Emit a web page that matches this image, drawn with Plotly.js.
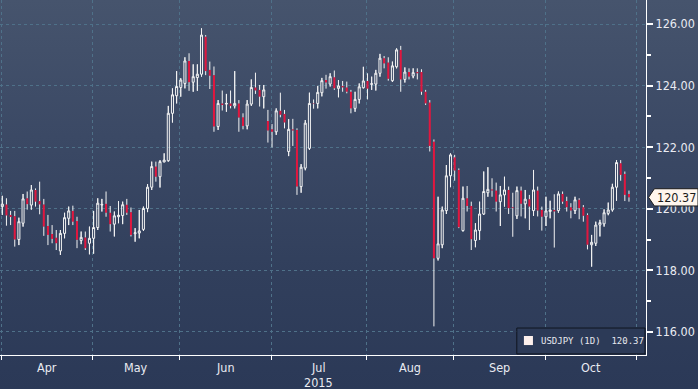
<!DOCTYPE html>
<html><head><meta charset="utf-8">
<script src="https://cdn.plot.ly/plotly-3.0.1.min.js"></script>
<style>
html,body{margin:0;padding:0;background:#2c3a57;overflow:hidden;}
#chart{width:698px;height:389px;background:linear-gradient(to bottom,#46546d 0%,#3b4965 35%,#313f5c 70%,#2b3957 100%);}
</style></head><body><div id="chart"></div>
<script>
// USDJPY daily candles, Apr - Oct 2015
const openP = [120.07,120.14,119.80,119.76,119.00,119.53,120.34,120.12,120.61,120.25,
120.14,119.44,119.18,119.06,118.63,119.20,119.69,119.93,119.60,118.97,
119.07,118.88,119.04,119.39,120.12,120.16,119.87,119.50,119.74,119.78,
120.13,119.89,119.19,119.21,119.33,120.01,120.70,121.37,121.04,121.52,
121.56,123.10,123.67,123.94,124.07,124.80,124.11,124.26,124.37,125.59,
124.51,124.34,122.67,123.42,123.40,123.42,123.34,123.42,122.97,122.69,
123.40,123.94,123.86,123.64,122.85,122.58,122.50,123.18,123.08,121.86,
122.58,122.56,120.72,121.32,121.96,123.42,123.42,123.77,124.18,124.05,
124.27,123.91,123.99,123.94,123.80,123.26,123.55,123.93,124.15,124.04,
124.05,124.40,124.89,124.75,124.16,124.61,125.16,124.20,124.44,124.31,
124.44,124.44,123.80,123.45,122.18,118.39,118.83,119.94,121.07,121.67,
121.26,119.29,120.34,120.09,118.97,119.29,119.83,120.52,120.63,120.59,
120.23,120.45,120.61,120.05,119.77,120.59,120.16,120.31,119.94,120.59,
119.96,119.74,119.91,119.96,119.94,120.48,120.25,120.05,119.94,120.29,
120.05,119.80,118.83,118.88,119.47,119.51,119.85,119.96,120.70,121.48,
121.13,120.48];
const highP = [120.42,120.34,119.93,119.93,119.71,120.48,120.56,120.77,120.66,120.88,
120.32,119.80,119.47,119.31,119.31,119.87,120.07,120.10,119.74,119.26,
119.26,119.42,119.93,120.34,120.32,120.56,120.09,119.91,120.25,120.23,
120.32,120.04,119.37,119.96,120.07,120.80,121.53,121.53,121.58,121.80,
123.34,123.91,124.47,124.24,124.92,125.05,124.69,124.69,125.86,125.64,
124.78,124.62,123.53,123.84,123.73,123.84,124.47,123.53,123.10,123.53,
124.20,124.42,124.02,124.02,123.21,122.75,123.26,123.77,123.21,122.91,
122.92,122.61,121.45,122.88,123.77,123.55,123.99,124.25,124.35,124.40,
124.49,124.18,124.15,124.13,123.86,123.80,124.07,124.61,124.40,124.29,
124.51,125.03,124.96,124.92,124.78,125.21,125.29,124.59,124.56,124.56,
124.56,124.53,123.86,123.53,122.25,120.39,120.07,121.42,121.80,121.75,
121.31,120.72,120.74,120.23,119.53,120.23,121.21,121.35,120.99,120.85,
120.74,121.04,120.72,120.52,120.72,120.72,120.61,120.45,121.26,120.72,
120.07,120.39,120.26,120.47,120.56,120.56,120.39,120.18,120.39,120.34,
120.12,119.85,119.15,119.58,119.64,119.98,120.20,120.81,121.58,121.58,
121.21,120.59];
const lowP = [119.80,119.45,119.47,118.77,118.82,119.42,119.97,119.97,120.07,119.82,
119.12,118.82,118.88,118.66,118.50,119.04,119.47,119.47,118.72,118.85,
118.66,118.52,118.54,119.31,119.91,119.74,119.26,119.10,119.53,119.50,
119.80,119.10,118.93,119.04,119.28,119.89,120.61,120.88,120.69,121.51,
121.53,122.80,123.42,123.64,123.91,123.83,123.80,123.83,124.29,124.34,
123.89,122.50,122.56,123.19,123.15,123.26,123.26,122.50,122.58,122.58,
123.34,123.73,123.32,123.26,122.15,121.99,122.40,122.97,122.61,121.71,
122.04,120.45,120.52,121.25,121.91,123.25,123.26,123.65,123.90,123.97,
123.86,123.62,123.80,123.75,123.10,123.15,123.42,123.91,123.55,123.86,
123.84,124.29,124.56,124.16,124.12,124.56,123.80,124.10,124.20,124.24,
124.20,123.70,123.37,121.86,116.18,118.32,118.72,119.83,120.70,120.91,
119.37,119.26,119.91,118.66,118.75,118.99,119.80,120.39,120.39,119.91,
119.44,120.07,119.83,119.09,119.67,119.75,119.69,119.31,119.77,119.75,
119.29,119.44,119.69,118.74,119.87,120.16,119.91,119.69,119.83,119.66,
119.58,118.68,118.12,118.79,119.10,119.42,119.79,119.91,120.26,120.91,
120.25,120.23];
const closeP = [120.15,119.78,119.73,119.00,119.58,120.32,120.15,120.61,120.23,120.14,
119.42,119.15,119.02,118.88,119.20,119.71,119.93,119.58,118.99,119.07,
118.72,119.04,119.39,120.18,120.14,119.87,119.50,119.77,119.79,120.13,
119.87,119.15,119.22,119.28,120.01,120.70,121.37,121.04,121.53,121.58,
123.10,123.70,123.97,124.18,124.80,124.11,124.29,124.37,125.64,124.47,
124.32,122.67,123.42,123.37,123.42,123.34,123.42,122.96,122.69,123.40,
123.94,123.84,123.64,123.86,122.54,122.50,123.18,123.05,122.80,122.58,
122.54,120.72,121.35,122.78,123.42,123.40,123.78,124.16,124.10,124.29,
123.91,123.99,123.94,123.80,123.26,123.55,123.96,124.15,123.90,124.06,
124.40,124.89,124.72,124.22,124.64,125.16,124.20,124.44,124.29,124.42,
124.40,123.80,123.42,122.04,118.39,118.86,119.96,121.07,121.75,121.24,
119.40,120.34,120.09,119.01,119.31,119.83,120.56,120.63,120.59,120.23,
120.45,120.61,120.02,120.02,120.59,120.16,120.31,120.07,120.61,119.94,
119.74,119.93,119.96,119.91,120.48,120.23,120.05,119.94,120.29,120.02,
119.77,118.83,118.91,119.47,119.55,119.87,119.96,120.70,121.50,121.10,
120.45,120.37];
const monthNames = ['Apr','May','Jun','Jul','Aug','Sep','Oct'];
const monthStartIdx = [0,22,43,65,88,109,131,153];
const yearLabel = '2015';
const yTicks = [116,118,120,122,124,126];
const seriesName = 'USDJPY (1D)';

const idx = openP.map((_, i) => i);
const lastClose = closeP[closeP.length - 1];

// upper/lower wick segments (white)
const wx = [], wy = [];
for (let i = 0; i < idx.length; i++) {
  const top = Math.max(openP[i], closeP[i]), bot = Math.min(openP[i], closeP[i]);
  wx.push(i, i, null, i, i, null);
  wy.push(top, highP[i], null, lowP[i], bot, null);
}

const RED = '#e0173f', WHITE = '#f3f3f3';
const FONT = "'DejaVu Sans Condensed','Liberation Sans Narrow',sans-serif";

const traces = [
  {type:'candlestick', x:idx, open:openP, high:highP, low:lowP, close:closeP,
   increasing:{line:{color:WHITE, width:1}, fillcolor:'rgba(0,0,0,0)'},
   decreasing:{line:{color:RED, width:0}, fillcolor:RED},
   whiskerwidth:0, hoverinfo:'skip', showlegend:false, name:seriesName},
  {type:'scatter', mode:'lines', x:wx, y:wy, line:{color:WHITE, width:1},
   hoverinfo:'skip', showlegend:false}
];

const tickPos = monthStartIdx.map(v => v - 0.2);
const labelPos = monthNames.map((_, k) => (tickPos[k] + tickPos[k+1]) / 2);

const annotations = monthNames.map((m, k) => ({
  x: labelPos[k], xref:'x', y:0, yref:'paper', yanchor:'top', yshift:-3,
  text:m, showarrow:false, font:{family:FONT, size:12.5, color:'#e9ebf2'}
}));
annotations.push({x: labelPos[3], xref:'x', y:0, yref:'paper', yanchor:'top', yshift:-18,
  text:yearLabel, showarrow:false, font:{family:FONT, size:12.5, color:'#e9ebf2'}});
// last price tag text
annotations.push({x:1.0465, xref:'paper', y:lastClose, yref:'y', xanchor:'center', yanchor:'middle',
  text:lastClose.toFixed(2), showarrow:false, font:{family:FONT, size:12.5, color:'#1b1b1b'}});
// legend text
annotations.push({x:0.834, xref:'paper', y:0.0394, yref:'paper', xanchor:'left', yanchor:'middle',
  text:seriesName + '  ' + lastClose.toFixed(2), showarrow:false,
  font:{family:"'DejaVu Sans Mono',monospace", size:9, color:'#e6e8ee'}});

const hh = 0.28;
const shapes = [
  {type:'path', xref:'paper', yref:'y',
   path:`M 1.004,${lastClose} L 1.013,${lastClose+hh} L 1.0805,${lastClose+hh} L 1.0805,${lastClose-hh} L 1.013,${lastClose-hh} Z`,
   fillcolor:'#fff6ee', line:{color:'#1a1a1a', width:1}, layer:'above'},
  {type:'rect', xref:'paper', yref:'paper', x0:0.800, x1:0.9985, y0:0.003, y1:0.076,
   fillcolor:'#2c3a57', line:{color:'#10151f', width:1}, layer:'above'},
  {type:'rect', xref:'paper', yref:'paper', x0:0.811, x1:0.825, y0:0.028, y1:0.0535,
   fillcolor:'#fdf0ec', line:{width:0}, layer:'above'}
];

const grid = {gridcolor:'#4f7189', gridwidth:1, griddash:'3px,3px'};

const layout = {
  width:698, height:389,
  margin:{l:0, r:52, t:0, b:34},
  paper_bgcolor:'rgba(0,0,0,0)', plot_bgcolor:'rgba(0,0,0,0)',
  showlegend:false,
  xaxis:Object.assign({type:'linear', range:[-0.554, 155.1], tickmode:'array', tickvals:tickPos,
    showticklabels:false, ticks:'outside', ticklen:4, tickcolor:'#ffffff', tickwidth:1,
    showgrid:true, showline:true, linecolor:'#ffffff', linewidth:1, zeroline:false,
    rangeslider:{visible:false}, fixedrange:true}, grid),
  yaxis:Object.assign({side:'right', range:[115.25, 126.78], tickmode:'array', tickvals:yTicks,
    ticktext:yTicks.map(v => v.toFixed(2)),
    ticks:'outside', ticklen:6, tickwidth:2, tickcolor:'#ffffff',
    minor:{tickmode:'linear', tick0:115, dtick:2, ticks:'outside', ticklen:4, tickcolor:'#ffffff', showgrid:false},
    showline:true, linecolor:'#ffffff', linewidth:1, zeroline:false,
    tickfont:{family:FONT, size:12.5, color:'#e9ebf2'}, fixedrange:true}, grid),
  annotations:annotations,
  shapes:shapes
};

Plotly.newPlot('chart', traces, layout, {displayModeBar:false, staticPlot:true});
</script></body></html>
